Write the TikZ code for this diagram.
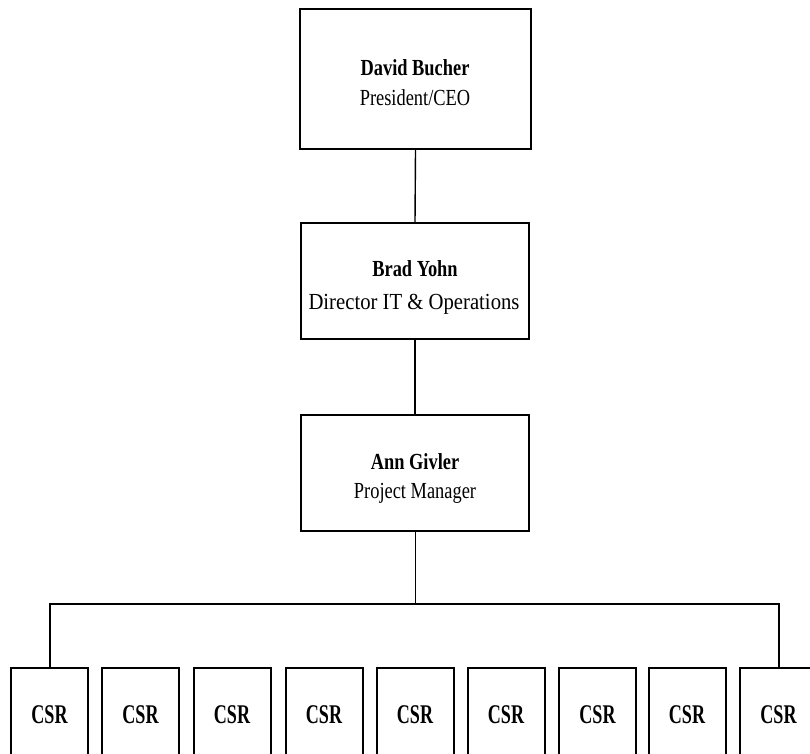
\documentclass[tikz,border=0pt]{standalone}
\usepackage{fontspec}
\setmainfont{Liberation Serif}
\newfontfamily\condfont[FakeStretch=0.8]{Liberation Serif}
\newfontfamily\widefont[FakeStretch=0.9]{Liberation Serif}
\newfontfamily\csrfont[FakeStretch=0.67]{Liberation Serif}
\tikzset{
  box/.style={draw=black, line width=2pt, rectangle, inner sep=0pt},
  csrbox/.style={draw=black, line width=2pt, rectangle, inner sep=0pt,
    minimum width=77pt, minimum height=100pt, font=\csrfont\bfseries\fontsize{27}{30}\selectfont},
  nametxt/.style={anchor=base, inner sep=0pt, font=\condfont\bfseries\fontsize{23}{28}\selectfont},
  titletxt/.style={anchor=base, inner sep=0pt, font=\condfont\fontsize{23}{28}\selectfont},
  conn/.style={draw=black, line width=1.4pt},
  thin/.style={draw=black, line width=1pt},
  bus/.style={draw=black, line width=2pt}
}
\begin{document}
\begin{tikzpicture}[x=1pt,y=-1pt]
\useasboundingbox (0,0) rectangle (810,753);
\clip (0,0) rectangle (810,753);
% management boxes
\node[box, minimum width=231pt, minimum height=140pt] (ceo) at (415.5,79) {};
\node[box, minimum width=228pt, minimum height=116pt] (dir) at (415,281) {};
\node[box, minimum width=228pt, minimum height=116pt] (pm) at (415,473) {};
\node[nametxt] (ceoN) at (415,75) {David Bucher};
\node[titletxt] (ceoT) at (415,105) {President/CEO};
\node[nametxt] (dirN) at (415,276) {Brad Yohn};
\node[titletxt, font=\widefont\fontsize{23}{28}\selectfont] (dirT) at (414,309) {Director IT \& Operations};
\node[nametxt] (pmN) at (415,469) {Ann Givler};
\node[titletxt] (pmT) at (415,498) {Project Manager};
% CSR boxes
\foreach \i/\x in {1/49.5,2/140.5,3/232,4/324,5/415,6/506,7/597.5,8/687,9/778.5}{
  \node[csrbox] (c\i) at (\x,718) {};
  \node[anchor=base, inner sep=0pt, font=\csrfont\bfseries\fontsize{27}{30}\selectfont] (t\i) at (\x,723) {CSR};
}
% connectors
\coordinate (busmid) at (415,604);
\draw[conn] (ceo.south) -- (dir.north);
\draw[conn] (dir.south) -- (pm.north);
\draw[thin] (pm.south) -- (busmid);
\draw[bus] (c1.north) |- (busmid) -| (c9.north);
\end{tikzpicture}
\end{document}
